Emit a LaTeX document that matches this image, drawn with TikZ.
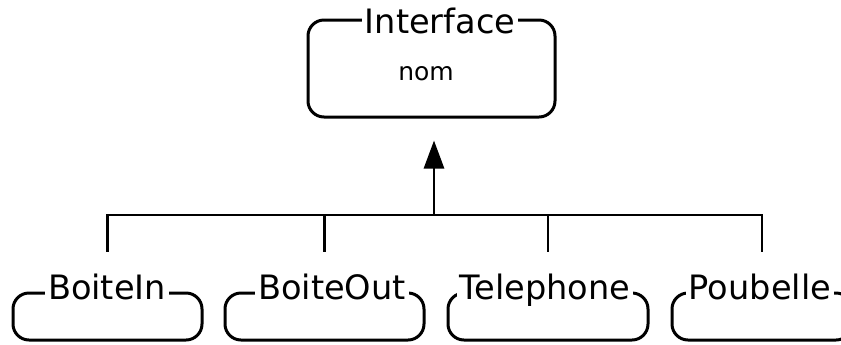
\documentclass[tikz,border=0pt]{standalone}
\usepackage{fontspec}
\setmainfont{DejaVu Sans}
\usetikzlibrary{arrows.meta}
\tikzset{
  classbox/.style={draw, line width=1.5pt, rounded corners=8pt, inner sep=0pt},
  classname/.style={fill=white, anchor=base, inner xsep=1.5pt, inner ysep=1pt, font=\fontsize{16.8}{19}\selectfont},
  attrname/.style={anchor=base, inner sep=0pt, font=\fontsize{12.5}{14}\selectfont},
  link/.style={line width=1.4pt},
  inherit/.style={link, -{Triangle[length=14pt,width=10pt]}, shorten >=11pt}
}
\begin{document}
\begin{tikzpicture}[x=0.5pt, y=-0.5pt]
\useasboundingbox (0,0) rectangle (841,344);
% Superclass
\node[classbox, minimum width=123.5pt, minimum height=48.5pt] (interface) at (431.5,68.5) {};
\node[classname] (interfaceName) at (440,33) {Interface};
\node[attrname] (nom) at (426,80) {nom};
% Subclasses
\node[classbox, minimum width=94.5pt, minimum height=23.5pt] (boiteIn) at (107.5,316.5) {};
\node[classbox, minimum width=99.5pt, minimum height=23.5pt] (boiteOut) at (324.5,316.5) {};
\node[classbox, minimum width=100pt, minimum height=23.5pt] (telephone) at (548,316.5) {};
\node[classbox, minimum width=90pt, minimum height=23.5pt] (poubelle) at (762,316.5) {};
\node[classname] (boiteInName) at (107,299) {BoiteIn};
\node[classname] (boiteOutName) at (332,299) {BoiteOut};
\node[classname] (telephoneName) at (545,299) {Telephone};
\node[classname] (poubelleName) at (760,299) {Poubelle};
% Inheritance tree
\coordinate (bar) at (434,215);
\foreach \c in {boiteIn,boiteOut,telephone,poubelle}
  \draw[link] ([yshift=20pt]\c.north) |- (bar);
\draw[inherit] (bar) -- (bar |- interface.south);
\end{tikzpicture}
\end{document}
